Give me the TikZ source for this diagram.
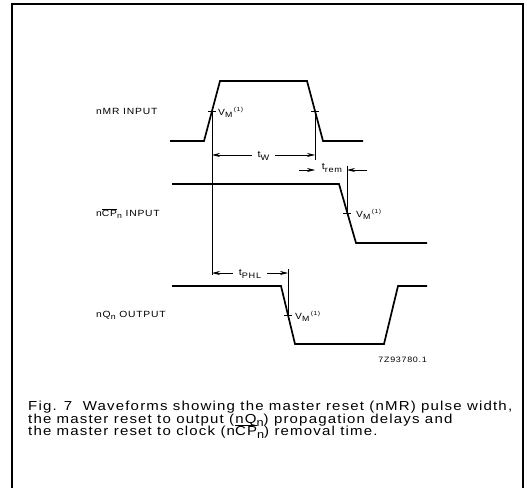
\documentclass[tikz,border=0pt]{standalone}
\usepackage{fontspec}
\setmainfont{Liberation Sans}
\newfontfamily\wavefont[FakeStretch=1.15,LetterSpace=9]{Liberation Sans}
\usetikzlibrary{arrows.meta}

\newcommand{\lowtext}[1]{\raisebox{-0.45ex}[0pt][0pt]{\scalebox{0.85}{#1}}}
\newcommand{\barred}[1]{\leavevmode\vbox{\hrule height 0.6bp\kern 0.9bp\hbox{#1}}}
\newcommand{\vmsign}{V\lowtext{M}\,\raisebox{0.8ex}{\scalebox{0.65}{(1)}}}
\newcommand{\capfont}{\wavefont\fontsize{13.1}{12.4}\selectfont\lineskiplimit=-20bp\relax\lineskip=0bp\relax}

\begin{document}
\begin{tikzpicture}[
    x=1bp,
    y=-1bp,
    panel/.style={line width=1.3bp},
    wave/.style={line width=1.7bp, line join=miter},
    guide/.style={line width=0.7bp},
    vmtick/.style={line width=0.9bp},
    dim/.style={
        guide,
        {Stealth[length=8bp,width=4bp]}-{Stealth[length=8bp,width=4bp]}
    },
    single/.style={guide, -{Stealth[length=8bp,width=4bp]}},
    signame/.style={
        anchor=west,
        inner sep=0pt,
        font=\wavefont\fontsize{9}{10}\selectfont
    },
    dimtext/.style={
        fill=white,
        inner xsep=6bp,
        inner ysep=1.5bp,
        font=\wavefont\fontsize{9.4}{10}\selectfont
    },
    captext/.style={
        anchor=north west,
        inner sep=0pt,
        align=left,
        font=\capfont
    }
]

\useasboundingbox (0,0) rectangle (527,488);
\draw[panel] (12,492) -- (12,4) -- (523,4) -- (523,492);

\coordinate (mrA) at (212,111);
\coordinate (mrB) at (315,111);
\coordinate (cpA) at (347,213);
\coordinate (qA) at (288,315);
\coordinate (wL) at (212,155);
\coordinate (wR) at (315,155);
\coordinate (remL) at (299,170);
\coordinate (remR) at (367,170);
\coordinate (phlL) at (212,273);
\coordinate (phlR) at (288,273);

\draw[wave] (170,141) -- (204,141) -- (220,81) -- (307,81) -- (323,141) -- (363,141);
\draw[wave] (172,184) -- (339,184) -- (356,243) -- (427,243);
\draw[wave] (172,286) -- (281,286) -- (295,344) -- (384,344) -- (398,286) -- (427,286);

\node[signame] (mrname) at (96,111) {nMR\ INPUT};
\node[signame] (cpname) at (96,213) {n\barred{CP}\lowtext{n} INPUT};
\node[signame] (qname) at (96,315) {nQ\lowtext{n} OUTPUT};

\draw[vmtick] ([xshift=-4bp]mrA) -- ([xshift=4bp]mrA);
\draw[vmtick] ([xshift=-4bp]mrB) -- ([xshift=4bp]mrB);
\draw[vmtick] ([xshift=-4bp]cpA) -- ([xshift=4bp]cpA);
\draw[vmtick] ([xshift=-4bp]qA) -- ([xshift=4bp]qA);

\node[signame] (vm1) at (218,111) {\vmsign};
\node[signame] (vm2) at (356,213) {\vmsign};
\node[signame] (vm3) at (295,315) {\vmsign};

\draw[guide] (mrA) -- (212,275);
\draw[guide] (mrB) -- (315,160);
\draw[guide] (347,166) -- (cpA);
\draw[guide] (288,269) -- (288,320);

\draw[dim] (wL) -- node[dimtext] (tw) {t\lowtext{W}} (wR);
\draw[single] (remL) -- (wR |- remL);
\draw[single] (remR) -- (cpA |- remR);
\node[dimtext, fill=none, inner sep=0pt] (trem) at (332,167) {t\lowtext{rem}};
\draw[dim] (phlL) -- node[dimtext] (tphl) {t\lowtext{PHL}} (phlR);

\node[signame, anchor=east, font=\wavefont\fontsize{7.8}{9}\selectfont] (code) at (427,360) {7Z93780.1};

\node[captext] (caption) at (28,401) {Fig. 7\ \ Waveforms showing the master reset (nMR) pulse width,\\
the master reset to output (nQ\lowtext{n}) propagation delays and\\
the master reset to clock (n\barred{CP}\lowtext{n}) removal time.};

\end{tikzpicture}
\end{document}
